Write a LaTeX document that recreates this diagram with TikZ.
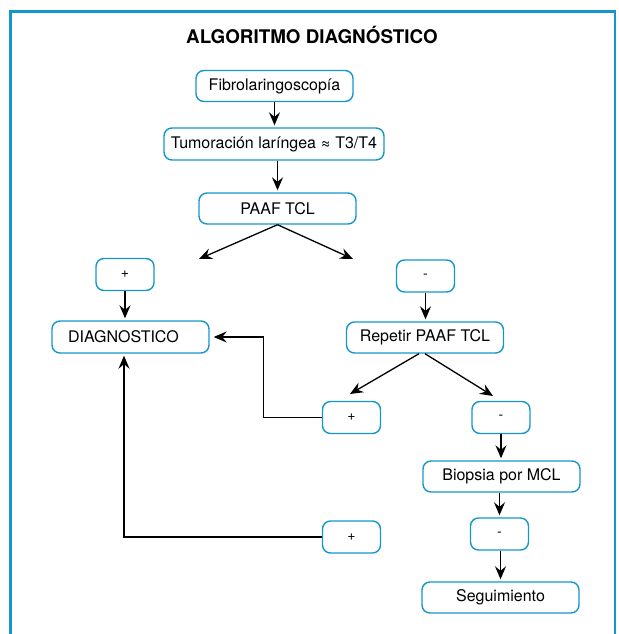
\documentclass[tikz,border=0pt]{standalone}
\usepackage{fontspec}
\setmainfont{TeX Gyre Heros}
\usetikzlibrary{arrows.meta}
\definecolor{frameblue}{RGB}{20,150,205}
\tikzset{
  box/.style={draw=frameblue, line width=1.4pt, rounded corners=8pt, inner sep=0pt, align=center, font=\fontsize{16}{18}\selectfont},
  bigbox/.style={box, minimum width=157pt, minimum height=31pt},
  smallbox/.style={box, minimum width=58pt, minimum height=32pt, font=\fontsize{14}{16}\selectfont},
  arr/.style={line width=1.3pt, -{Stealth[length=13pt,width=11pt,inset=4.5pt]}, shorten >=2pt},
  conn/.style={line width=1.3pt},
  framestyle/.style={draw=frameblue, line width=2.6pt}
}
\begin{document}
\begin{tikzpicture}[x=1pt,y=-1pt]
\useasboundingbox (0,0) rectangle (618,634);
\draw[framestyle] (10.5,640) -- (10.5,11.5) -- (615,11.5) -- (615,640);
\node[font=\bfseries\fontsize{18.8}{21}\selectfont] (title) at (312,35) {ALGORITMO DIAGNÓSTICO};
\node[bigbox] (fib) at (274.5,86) {Fibrolaringoscopía};
\node[bigbox, minimum width=220pt, minimum height=32pt] (tum) at (274,144) {Tumoración laríngea ≈ T3/T4};
\node[bigbox] (paaf) at (277.5,208.5) {PAAF TCL};
\node[smallbox] (pl) at (125,274.5) {+};
\node[bigbox, minimum height=32pt, text width=125pt, inner xsep=16pt, align=left] (diag) at (130.5,337) {DIAGNOSTICO};
\node[smallbox] (ml) at (425.5,276) {-};
\node[bigbox] (rep) at (425,337.5) {Repetir PAAF TCL};
\node[smallbox] (pm) at (351.5,417.5) {+};
\node[smallbox] (mm) at (501,417.5) {-};
\node[bigbox] (bio) at (501.5,476.5) {Biopsia por MCL};
\node[smallbox] (pb) at (351.5,537) {+};
\node[smallbox] (mb) at (499.5,534) {-};
\node[bigbox] (seg) at (500.5,597.5) {Seguimiento};
\coordinate (paafL) at (199,259);
\coordinate (paafR) at (353,259);
\coordinate (repL) at (350,394);
\coordinate (repR) at (493,396);
\draw[arr] (fib.south) -- (fib.south |- tum.north);
\draw[arr] (tum.south -| paaf) -- (paaf.north);
\draw[arr, shorten >=0pt] (paaf.south) -- (paafL);
\draw[arr, shorten >=0pt] (paaf.south) -- (paafR);
\draw[arr] (pl.south) -- (pl.south |- diag.north);
\draw[arr] (ml.south) -- (ml.south |- rep.north);
\draw[arr, shorten >=0pt] ([xshift=-6pt]rep.south) -- (repL);
\draw[arr, shorten >=0pt] (rep.south) -- (repR);
\draw[arr, shorten >=4pt] (pm.west) -- ++(-58,0) |- (diag.east);
\draw[arr] (pb.west) -| ([xshift=-6.5pt]diag.south);
\draw[arr] (mm.south) -- (mm.south |- bio.north);
\draw[arr] (bio.south -| mb) -- (mb.north);
\draw[arr] (mb.south -| seg) -- (seg.north);
\end{tikzpicture}
\end{document}
